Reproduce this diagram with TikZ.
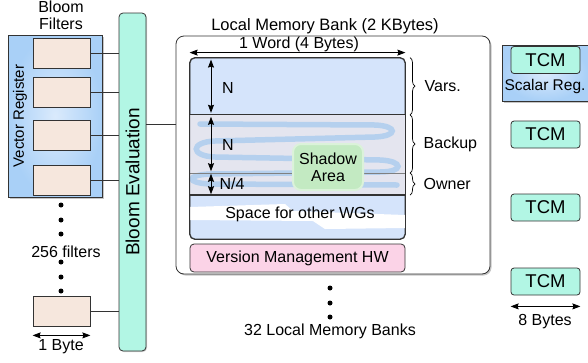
\documentclass[tikz,border=0pt]{standalone}
\usepackage{fontspec}
\setmainfont{Liberation Sans}
\usetikzlibrary{positioning, arrows.meta, decorations.pathreplacing, shadows}

\definecolor{regblue}{HTML}{A9D0F7}
\definecolor{regblueinner}{HTML}{DAEAFC}
\definecolor{filterfill}{HTML}{F6E7DD}
\definecolor{mint}{HTML}{B2F6E4}
\definecolor{memblue}{HTML}{D5E4FB}
\definecolor{backupgray}{HTML}{E4E5EF}
\definecolor{vmpink}{HTML}{FBD3E7}
\definecolor{shadowgreen}{HTML}{C3EAC2}
\definecolor{spiralblue}{HTML}{A6CAEE}
\definecolor{edge}{HTML}{333333}

\begin{document}
\begin{tikzpicture}[
        x=1pt, y=-1pt,
        font=\fontsize{16}{17}\selectfont,
        regbox/.style={
            draw=edge,
            line width=0.8pt,
            shading=radial,
            inner color=regblueinner,
            outer color=regblue,
            inner sep=0pt,
            drop shadow={shadow xshift=1.5pt, shadow yshift=-1.5pt, opacity=0.45}
        },
        filterbox/.style={
            draw=edge,
            line width=0.8pt,
            fill=filterfill,
            minimum width=57pt,
            minimum height=30pt,
            inner sep=0pt
        },
        bloombar/.style={
            draw=edge,
            line width=0.8pt,
            fill=mint,
            rounded corners=4pt,
            minimum width=27pt,
            minimum height=338pt,
            inner sep=0pt,
            drop shadow={shadow xshift=1pt, shadow yshift=-1pt, opacity=0.35}
        },
        bankbox/.style={
            draw=edge,
            line width=0.8pt,
            fill=white,
            rounded corners=8pt,
            minimum width=314pt,
            minimum height=238pt,
            inner sep=0pt,
            drop shadow={shadow xshift=1.5pt, shadow yshift=-1.5pt, opacity=0.45}
        },
        memarea/.style={
            draw=edge,
            line width=0.8pt,
            fill=memblue,
            rounded corners=5pt,
            minimum width=215pt,
            minimum height=181pt,
            inner sep=0pt
        },
        region/.style={
            fill=backupgray,
            minimum width=215pt,
            inner sep=0pt
        },
        vmbox/.style={
            draw=edge,
            line width=0.8pt,
            fill=vmpink,
            rounded corners=4pt,
            minimum width=215pt,
            minimum height=28pt
        },
        shadowbox/.style={
            fill=shadowgreen,
            draw=shadowgreen!60!white,
            line width=2pt,
            rounded corners=8pt,
            minimum width=70pt,
            minimum height=46pt,
            align=center,
            inner sep=0pt
        },
        tcmbox/.style={
            draw=edge,
            line width=0.8pt,
            fill=mint,
            rounded corners=3pt,
            minimum width=69pt,
            minimum height=27pt,
            inner sep=0pt,
            font=\fontsize{18.5}{20}\selectfont
        },
        bigdot/.style={circle, fill=black, inner sep=0pt, minimum size=5pt},
        dimarrow/.style={
            {Stealth[length=8pt, width=6pt, inset=1pt]}-{Stealth[length=8pt, width=6pt, inset=1pt]},
            line width=0.8pt
        },
        membrace/.style={
            decorate,
            decoration={brace, amplitude=5pt},
            line width=0.7pt
        },
        spiralpath/.style={spiralblue, line width=5.5pt, line cap=round, opacity=0.75},
        wire/.style={draw=edge, line width=0.8pt}
    ]

    \useasboundingbox (0,0) rectangle (588,362);

    % Bloom filters in the vector register
    \node[align=center] (bftitle) at (61,15) {Bloom\\Filters};
    \node[regbox, minimum width=94pt, minimum height=162pt] (vreg) at (55,116) {};
    \node[rotate=90, font=\fontsize{15}{16}\selectfont] (vregtext) at (20,116) {Vector Register};
    \node[filterbox] (f1) at (61.5,53) {};
    \node[filterbox] (f2) at (61.5,92) {};
    \node[filterbox] (f3) at (61.5,135) {};
    \node[filterbox] (f4) at (61.5,180) {};
    \node[filterbox] (f5) at (61.5,311) {};
    \foreach \y [count=\i] in {205,220,234,262,277,291}
        \node[bigdot] (ld\i) at (61,\y) {};
    \node (nfilters) at (66,252) {256 filters};
    \draw[dimarrow] ([yshift=-9pt]f5.south west) -- ([yshift=-9pt]f5.south east);
    \node (bytetext) at (61,347) {1 Byte};

    % Bloom evaluation
    \node[bloombar] (bloom) at (132.5,182) {};
    \node[rotate=90, font=\fontsize{19}{20}\selectfont] (bloomtext) at (bloom.center) {Bloom Evaluation};
    \foreach \f in {f1,f2,f3,f4,f5}
        \draw[wire] (\f.east) -- (\f.east -| bloom.west);

    % Local memory bank
    \node[bankbox] (bank) at (333,155) {};
    \node[font=\fontsize{16.5}{17}\selectfont] (banktitle) at (325,26) {Local Memory Bank (2 KBytes)};
    \coordinate (link) at (160,124);
    \draw[wire] (bloom.east |- link) -- (bank.west |- link);

    \node[memarea] (mem) at (297.5,148.5) {};
    \node[region, minimum height=58pt] (backup) at (297.5,144) {};
    \node[region, minimum height=22pt] (owner) at (297.5,184) {};
    \fill[white] (190,207) -- (285,204) -- (293,211) -- (405,215) -- (405,228)
        -- (325,229) -- (313,221) -- (190,220) -- cycle;
    \draw[spiralpath] (200,124) -- (375,125) .. controls (398,126) and (398,136) .. (375,137)
        -- (215,141) .. controls (190,142) and (190,156) .. (215,157)
        -- (380,160) .. controls (404,161) and (404,172) .. (380,172)
        -- (210,174) .. controls (186,175) and (186,183) .. (210,184) -- (397,185);
    \draw[edge, line width=0.9pt] (backup.north west) -- (backup.north east);
    \draw[gray, line width=0.6pt] (owner.north west) -- (owner.north east);
    \draw[edge, line width=1.6pt] (owner.south west) -- (owner.south east);
    \draw[edge, line width=0.8pt, rounded corners=5pt] (mem.north west) rectangle (mem.south east);
    \node (spacetext) at (300,214) {Space for other WGs};
    \node[vmbox] (vm) at (297.5,258) {Version Management HW};

    \node (wordtext) at (299,44) {1 Word (4 Bytes)};
    \draw[dimarrow] ([yshift=5pt]mem.north west) -- ([yshift=5pt]mem.north east);

    % sizes of the regions
    \coordinate (nx) at (211,0);
    \draw[dimarrow, shorten <=2pt, shorten >=2pt] (mem.north -| nx) -- (backup.north -| nx);
    \draw[dimarrow, shorten <=2pt, shorten >=2pt] (backup.north -| nx) -- (backup.south -| nx);
    \draw[dimarrow, shorten <=1pt, shorten >=1pt] (owner.north -| nx) -- (owner.south -| nx);
    \node (nvars) at (228,88) {N};
    \node (nbackup) at (228,145) {N};
    \node (nowner) at (232,184) {N/4};

    \node[shadowbox] (shadow) at (328,167) {Shadow\\Area};

    \coordinate (bx) at (410,0);
    \draw[membrace] (mem.north -| bx) -- (backup.north -| bx) node[midway, right=11pt] (varslab) {Vars.};
    \draw[membrace] (backup.north -| bx) -- (backup.south -| bx) node[midway, right=10pt] (backuplab) {Backup};
    \draw[membrace] (owner.north -| bx) -- (owner.south -| bx) node[midway, right=10pt] (ownerlab) {Owner};

    \foreach \y [count=\i] in {288,303,317}
        \node[bigdot] (bd\i) at (330,\y) {};
    \node (banks) at (330,331) {32 Local Memory Banks};

    % TCMs
    \node[regbox, minimum width=86pt, minimum height=56pt] (scalar) at (545,73) {};
    \node[tcmbox] (tcm1) at (545.5,60) {TCM};
    \node[font=\fontsize{15.5}{17}\selectfont] (scalartext) at (545,86) {Scalar Reg.};
    \node[tcmbox] (tcm2) at (545.5,134.5) {TCM};
    \node[tcmbox] (tcm3) at (545.5,207.5) {TCM};
    \node[tcmbox] (tcm4) at (545.5,281.5) {TCM};
    \draw[dimarrow] ([yshift=-11pt]tcm4.south west) -- ([yshift=-11pt]tcm4.south east);
    \node (tcmbytes) at (545,322) {8 Bytes};

\end{tikzpicture}
\end{document}
